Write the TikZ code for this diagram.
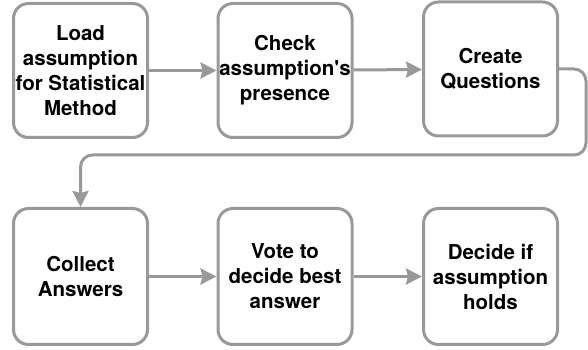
\documentclass[tikz,border=0pt]{standalone}
\usepackage{fontspec}
\setmainfont{TeX Gyre Heros}
\usetikzlibrary{arrows.meta}
\definecolor{edgegray}{RGB}{153,153,153}
\tikzset{
  stepbox/.style={draw=edgegray, line width=3pt, rounded corners=15pt, fill=white,
    minimum width=134pt, minimum height=134pt, align=center, inner sep=0pt,
    font=\fontsize{20.5}{25}\selectfont\bfseries, text=black},
  conn/.style={draw=edgegray, line width=3pt, rounded corners=12pt,
    -{Stealth[length=16pt, width=16pt, inset=2pt]}}
}
\begin{document}
\begin{tikzpicture}[x=1pt,y=1pt]
\useasboundingbox (0,0) rectangle (588,350);
\node[stepbox] (b1) at (80.5,279.5) {Load\\assumption\\for Statistical\\Method};
\node[stepbox] (b2) at (285,279.5) {Check\\assumption\textquotesingle s\\presence};
\node[stepbox] (b3) at (490.5,281) {Create\\Questions};
\node[stepbox, minimum height=136pt] (b4) at (80.5,73.5) {Collect\\Answers};
\node[stepbox, minimum height=136pt] (b5) at (285,73.5) {Vote to\\decide best\\answer};
\node[stepbox, minimum height=136pt] (b6) at (490.5,73.5) {Decide if\\assumption\\holds};
\coordinate (turn) at (586,195);
\draw[conn] (b1) -- (b2);
\draw[conn] (b2) -- (b3);
\draw[conn] (b3.east) -| (turn) -| (b4.north);
\draw[conn] (b4) -- (b5);
\draw[conn] (b5) -- (b6);
\end{tikzpicture}
\end{document}
